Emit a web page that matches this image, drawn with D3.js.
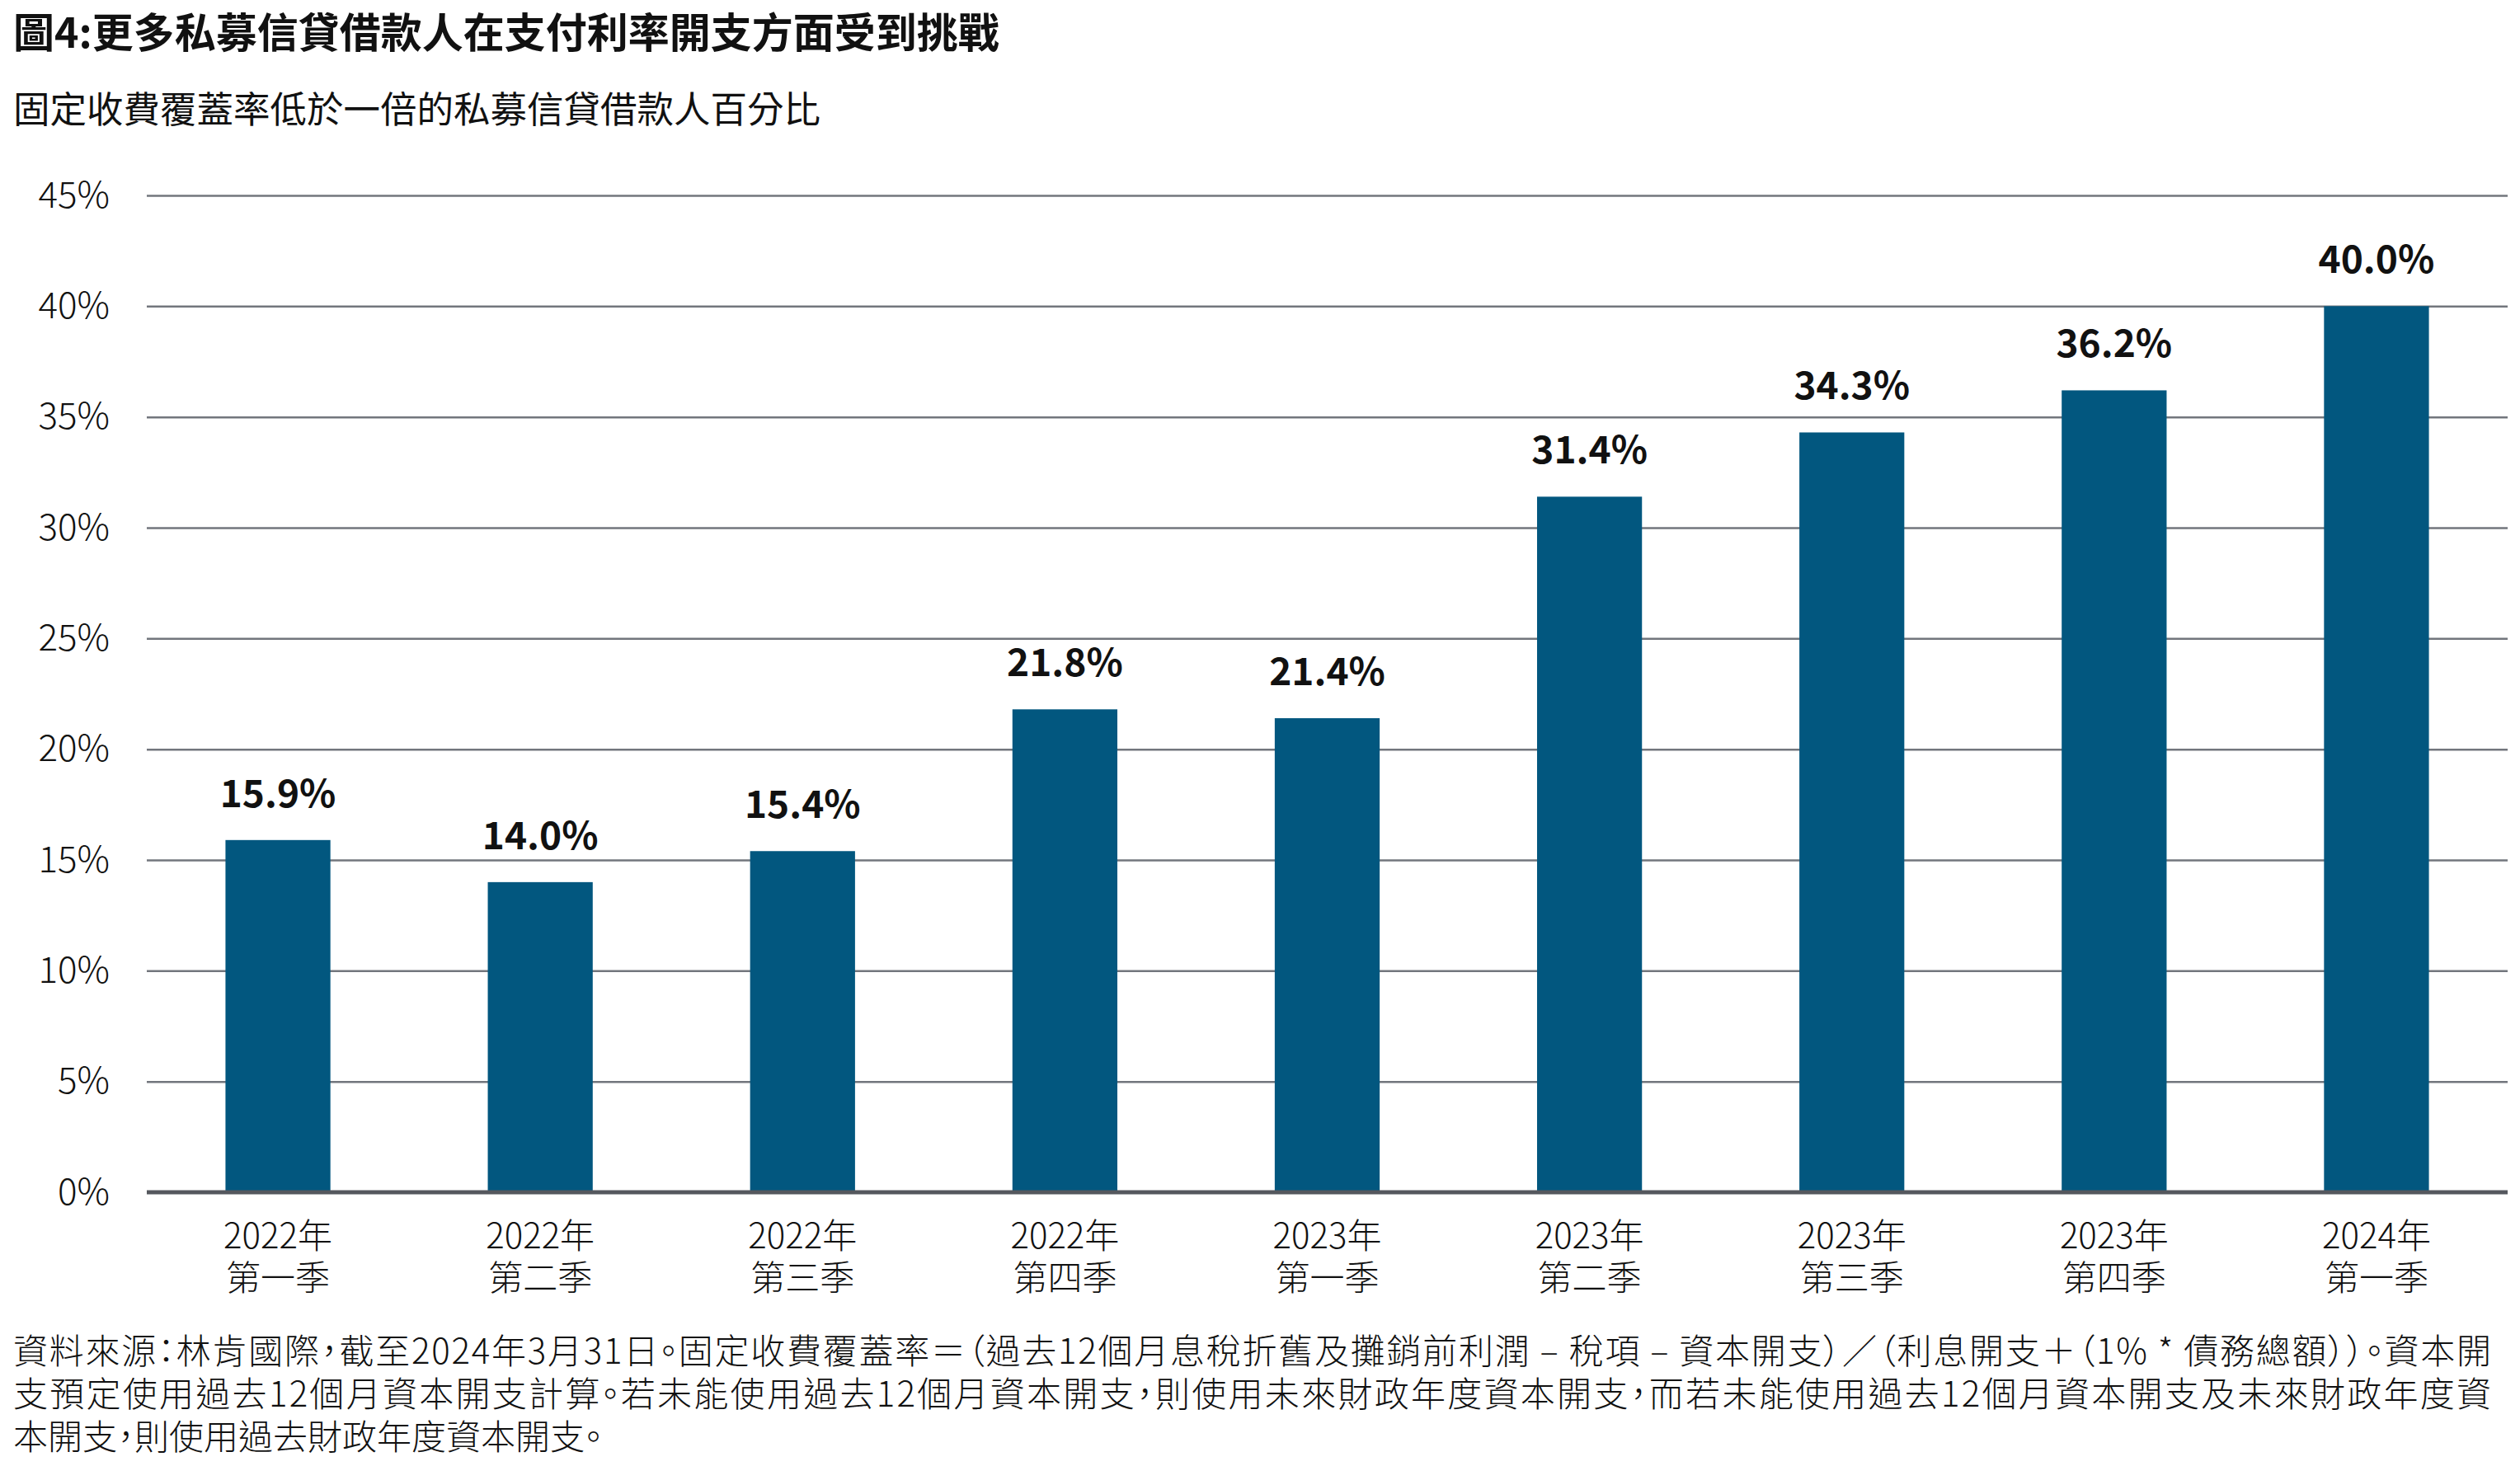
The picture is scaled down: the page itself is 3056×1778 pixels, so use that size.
<!DOCTYPE html>
<meta charset="utf-8">
<script src="https://d3js.org/d3.v7.min.js"></script>
<style>
  body { margin: 0; background: #fff; }
  svg text { font-family: "Noto Sans CJK TC", "Noto Sans", sans-serif; fill: #111; }
  .note { font-feature-settings: "palt"; }
</style>
<div id="chart"></div>
<script>
// data
const years = ["2022年", "2022年", "2022年", "2022年", "2023年", "2023年", "2023年", "2023年", "2024年"];
const quarters = ["第一季", "第二季", "第三季", "第四季", "第一季", "第二季", "第三季", "第四季", "第一季"];
const values = [15.9, 14.0, 15.4, 21.8, 21.4, 31.4, 34.3, 36.2, 40.0];
const yTicks = [0, 5, 10, 15, 20, 25, 30, 35, 40, 45];

const title = "圖4:更多私募信貸借款人在支付利率開支方面受到挑戰";
const subtitle = "固定收費覆蓋率低於一倍的私募信貸借款人百分比";
const notes = [
  "資料來源：林肯國際，截至2024年3月31日。固定收費覆蓋率＝（過去12個月息稅折舊及攤銷前利潤 – 稅項 – 資本開支）／（利息開支＋（1% * 債務總額））。資本開",
  "支預定使用過去12個月資本開支計算。若未能使用過去12個月資本開支，則使用未來財政年度資本開支，而若未能使用過去12個月資本開支及未來財政年度資",
  "本開支，則使用過去財政年度資本開支。"
];

const W = 3056, H = 1778;
const plotL = 178, plotR = 3041, plotT = 237, plotB = 1446;

const svg = d3.select("#chart").append("svg")
    .attr("width", W)
    .attr("height", H);

svg.append("text")
    .attr("x", 16).attr("y", 58)
    .style("font-size", "50px").style("font-weight", 700)
    .text(title);

svg.append("text")
    .attr("x", 16).attr("y", 149)
    .style("font-size", "44.5px").style("font-weight", 400)
    .text(subtitle);

const cats = years.map((d, i) => i);

const x = d3.scaleBand()
    .domain(cats)
    .range([plotL, plotR])
    .paddingInner(0.6)
    .paddingOuter(0.3);

const y = d3.scaleLinear()
    .domain([0, 45])
    .range([plotB, plotT]);

// grid + y labels
const yAxis = svg.append("g")
    .attr("transform", `translate(${plotL},0)`)
    .call(d3.axisLeft(y)
        .tickValues(yTicks)
        .tickSize(-(plotR - plotL))
        .tickPadding(45)
        .tickFormat(d => d + "%"));
yAxis.select(".domain").remove();
yAxis.selectAll(".tick line")
    .attr("stroke", "#72767d")
    .attr("stroke-width", 2.5)
    .filter(d => d === 0).remove();
yAxis.selectAll(".tick text")
    .style("font-size", "44px")
    .style("font-weight", 300)
    .attr("fill", "#111");

// bars
svg.selectAll("rect.bar")
    .data(values)
    .join("rect")
    .attr("class", "bar")
    .attr("x", (d, i) => x(i))
    .attr("y", d => y(d))
    .attr("width", x.bandwidth())
    .attr("height", d => y(0) - y(d))
    .attr("fill", "#02577f");

// value labels
svg.selectAll("text.val")
    .data(values)
    .join("text")
    .attr("class", "val")
    .attr("x", (d, i) => x(i) + x.bandwidth() / 2)
    .attr("y", d => y(d) - 40)
    .attr("text-anchor", "middle")
    .style("font-size", "46px")
    .style("font-weight", 700)
    .text(d => d.toFixed(1) + "%");

// baseline
svg.append("line")
    .attr("x1", plotL).attr("x2", plotR)
    .attr("y1", y(0)).attr("y2", y(0))
    .attr("stroke", "#55585e")
    .attr("stroke-width", 5);

// x labels
const xAxis = svg.append("g")
    .attr("transform", `translate(0,${plotB})`)
    .call(d3.axisBottom(x).tickSize(0).tickFormat(""));
xAxis.select(".domain").remove();
xAxis.selectAll(".tick text").remove();
xAxis.selectAll(".tick").append("text")
    .attr("text-anchor", "middle")
    .attr("y", 68)
    .style("font-size", "42px")
    .style("font-weight", 300)
    .text(i => years[i]);
xAxis.selectAll(".tick").append("text")
    .attr("text-anchor", "middle")
    .attr("y", 119)
    .style("font-size", "42px")
    .style("font-weight", 300)
    .text(i => quarters[i]);

// footnote
svg.selectAll("text.note")
    .data(notes)
    .join("text")
    .attr("class", "note")
    .attr("x", 16)
    .attr("y", (d, i) => 1654 + i * 52)
    .style("font-size", "42px")
    .style("font-weight", 300)
    .each(function (d, i) {
      if (i < 2) d3.select(this).attr("textLength", 3005).attr("lengthAdjust", "spacing");
    })
    .text(d => d);
</script>
